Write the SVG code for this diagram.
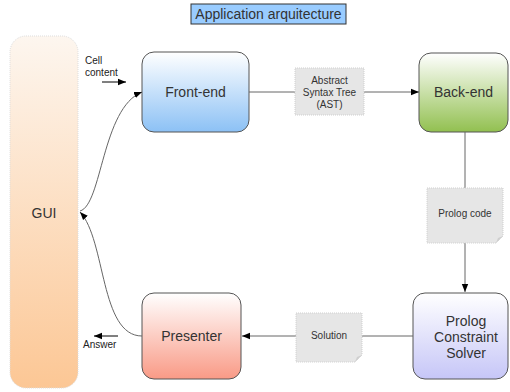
<svg xmlns="http://www.w3.org/2000/svg" width="510" height="392" viewBox="0 0 510 392">
<style>
.lbl{font-family:"Liberation Sans",Arial,sans-serif;font-size:14px;fill:#333;text-anchor:middle}
.sm{font-family:"Liberation Sans",Arial,sans-serif;font-size:10px;fill:#333;text-anchor:middle}
.sml{font-family:"Liberation Sans",Arial,sans-serif;font-size:10px;fill:#222}
.node{stroke:#555;stroke-width:1}
.note{fill:#e6e6e6;stroke:#cfcfcf;stroke-width:1;stroke-dasharray:1 1}
.con{fill:none;stroke:#666;stroke-width:1}
</style>
<defs>
<linearGradient id="gGui" x1="0" y1="0" x2="0" y2="1"><stop offset="0" stop-color="#fdf6ef"/><stop offset="1" stop-color="#fcc795"/></linearGradient>
<linearGradient id="gFe" x1="0" y1="0" x2="0" y2="1"><stop offset="0" stop-color="#ffffff"/><stop offset="1" stop-color="#8cc1f5"/></linearGradient>
<linearGradient id="gBe" x1="0" y1="0" x2="0" y2="1"><stop offset="0" stop-color="#ffffff"/><stop offset="1" stop-color="#92c050"/></linearGradient>
<linearGradient id="gPs" x1="0" y1="0" x2="0" y2="1"><stop offset="0" stop-color="#ffffff"/><stop offset="1" stop-color="#c6c6f7"/></linearGradient>
<linearGradient id="gPr" x1="0" y1="0" x2="0" y2="1"><stop offset="0" stop-color="#ffffff"/><stop offset="1" stop-color="#f99a86"/></linearGradient>
<marker id="arr" viewBox="0 0 10 10" refX="10" refY="5" markerWidth="8" markerHeight="8" orient="auto" markerUnits="userSpaceOnUse"><path d="M0,1 L10,5 L0,9 z" fill="#000"/></marker>
</defs>

<g id="title">
<rect x="191" y="4" width="155" height="20" fill="#99ccff" stroke="#333" stroke-width="1"/>
<text class="lbl" x="268.5" y="19">Application arquitecture</text>
</g>

<g id="gui">
<rect x="10" y="36" width="68" height="352" rx="16" fill="url(#gGui)" stroke="#ddd" stroke-width="1" stroke-dasharray="1 1"/>
<text class="lbl" x="44" y="218">GUI</text>
</g>

<g id="frontend">
<rect class="node" x="142" y="52" width="107" height="80" rx="12" fill="url(#gFe)"/>
<text class="lbl" x="195.5" y="97">Front-end</text>
</g>

<g id="backend">
<rect class="node" x="419" y="53" width="89" height="79" rx="12" fill="url(#gBe)"/>
<text class="lbl" x="463.5" y="97">Back-end</text>
</g>

<g id="solver">
<rect class="node" x="413" y="293" width="95" height="86" rx="12" fill="url(#gPs)"/>
<text class="lbl" x="466" y="326">Prolog</text>
<text class="lbl" x="466" y="342">Constraint</text>
<text class="lbl" x="466" y="358">Solver</text>
</g>

<g id="presenter">
<rect class="node" x="142" y="293" width="99" height="86" rx="12" fill="url(#gPr)"/>
<text class="lbl" x="191.5" y="341">Presenter</text>
</g>

<g id="connectors">
<line class="con" x1="249" y1="92" x2="295" y2="92"/>
<line class="con" x1="364" y1="92" x2="419" y2="92" marker-end="url(#arr)" style="stroke:#666"/>
<line class="con" x1="465" y1="132" x2="465" y2="188"/>
<line class="con" x1="465" y1="243" x2="465" y2="292" marker-end="url(#arr)"/>
<line class="con" x1="413" y1="336" x2="362" y2="336"/>
<line class="con" x1="296" y1="336" x2="242" y2="336" marker-end="url(#arr)"/>
<path class="con" d="M80 211 C102 205,102 108,142 92" marker-end="url(#arr)"/>
<path class="con" d="M142 336 C100 336,106 240,80 212" marker-end="url(#arr)"/>
<line class="con" x1="102" y1="82" x2="126" y2="82" marker-end="url(#arr)" style="stroke:#000"/>
<line class="con" x1="118" y1="336" x2="94" y2="336" marker-end="url(#arr)" style="stroke:#000"/>
</g>

<g id="ast">
<rect class="note" x="295" y="68" width="69" height="47"/>
<text class="sm" x="329.5" y="84">Abstract</text>
<text class="sm" x="329.5" y="96">Syntax Tree</text>
<text class="sm" x="329.5" y="108">(AST)</text>
</g>

<g id="prologcode">
<path class="note" d="M427 188 H503 V236 L496 243 H427 Z"/>
<path d="M496 243 L498 238 L503 236" fill="#cfcfcf" stroke="none"/>
<text class="sm" x="465" y="217">Prolog code</text>
</g>

<g id="solution">
<path class="note" d="M296 313 H362 V355 L355 362 H296 Z"/>
<path d="M355 362 L357 357 L362 355" fill="#cfcfcf" stroke="none"/>
<text class="sm" x="329" y="339">Solution</text>
</g>

<g id="labels">
<text class="sml" x="85" y="64">Cell</text>
<text class="sml" x="85" y="76">content</text>
<text class="sml" x="83" y="348">Answer</text>
</g>
</svg>
